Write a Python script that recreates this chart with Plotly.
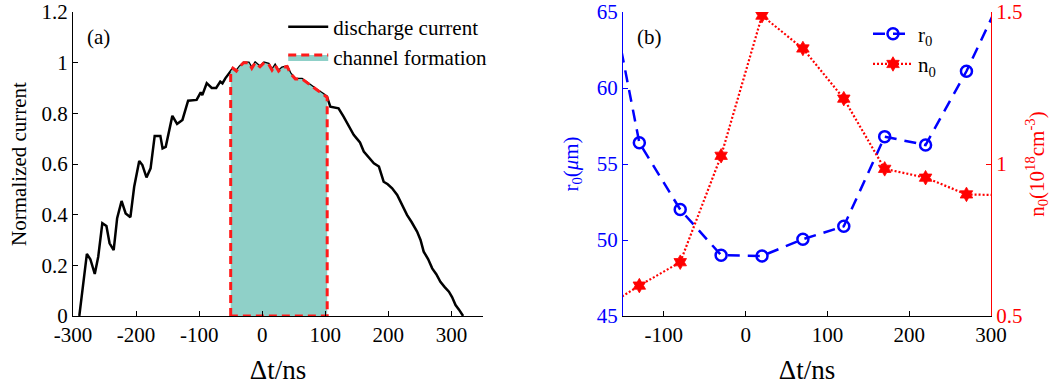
import numpy as np
import plotly.graph_objects as go

# ---------------- data ----------------
# (a) normalized discharge current vs delay (ns)
t_current = [-290, -284, -278, -272.5, -265.5, -260, -253.5, -247, -242, -235.5, -230, -223,
             -216.5, -209, -203, -195, -190, -183.5, -177, -170.5, -161.5, -158, -153, -142.5,
             -135, -126.5, -117.5, -104, -97.5, -95, -88, -80, -73, -66.5, -63, -58.5, -52,
             -46.5, -41, -36, -29.5, -21.5, -16.5, -11, -3.5, 3, 10, 15.5, 20.5, 26, 31.5, 39.5,
             44.5, 52.5, 63, 70, 79, 87, 95, 102.5, 108, 121, 129, 137, 145, 150, 155, 161,
             169, 177, 185, 192.5, 199, 206, 214, 222, 229.5, 237, 245.5, 251, 256, 263, 269.5,
             276, 282.5, 289, 296, 301, 306.5, 312, 318.5]
i_current = [0.0, 0.116, 0.245, 0.224, 0.166, 0.234, 0.366, 0.355, 0.287, 0.26, 0.386, 0.454,
             0.405, 0.39, 0.51, 0.612, 0.596, 0.547, 0.583, 0.711, 0.711, 0.662, 0.668, 0.79,
             0.758, 0.774, 0.85, 0.853, 0.883, 0.872, 0.919, 0.9, 0.9, 0.925, 0.918, 0.938, 0.958,
             0.978, 0.967, 0.984, 1.0, 1.0, 0.978, 1.0, 0.984, 1.0, 0.995, 0.971, 0.99, 0.967, 0.98,
             0.985, 0.958, 0.936, 0.936, 0.923, 0.905, 0.892, 0.879, 0.866, 0.826, 0.82, 0.787,
             0.75, 0.715, 0.70, 0.685, 0.649, 0.625, 0.603, 0.59, 0.53, 0.52, 0.504, 0.478, 0.44,
             0.399, 0.37, 0.333, 0.3, 0.254, 0.225, 0.188, 0.165, 0.135, 0.115, 0.096, 0.075,
             0.043, 0.025, 0.0]
CHANNEL_START = -50
CHANNEL_END = 103

# (b) channel radius and density vs delay (ns)
t_points = [-180, -130, -80, -30, 20, 70, 120, 170, 220, 270, 320]
r0_um = [70.2, 56.4, 52.0, 49.0, 48.95, 50.05, 50.9, 56.8, 56.25, 61.1, 66.8]
n0_1e18 = [0.515, 0.60, 0.677, 1.027, 1.488, 1.38, 1.215, 0.984, 0.955, 0.90, 0.897]

# tick labels
xa_ticks = [-300, -200, -100, 0, 100, 200, 300]
xa_labels = ["-300", "-200", "-100", "0", "100", "200", "300"]
xb_ticks = [-100, 0, 100, 200, 300]
xb_labels = ["-100", "0", "100", "200", "300"]

# ---------------- figure ----------------
FONT = "Liberation Serif"
BLUE = "#0000FF"
RED = "#FF0000"
fig = go.Figure()

fig.add_trace(go.Scatter(
    x=t_current, y=i_current, mode="lines", name="discharge current",
    line=dict(color="black", width=2.5), xaxis="x", yaxis="y", legend="legend"))

tc = np.array(t_current, dtype=float)
ic = np.array(i_current, dtype=float)
mask = (tc > CHANNEL_START) & (tc < CHANNEL_END)
top_x = [CHANNEL_START] + list(tc[mask]) + [CHANNEL_END]
top_y = [float(np.interp(CHANNEL_START, tc, ic))] + list(ic[mask]) + [float(np.interp(CHANNEL_END, tc, ic))]
poly_x = [CHANNEL_START] + top_x + [CHANNEL_END, CHANNEL_START]
poly_y = [0] + top_y + [0, 0]
fig.add_trace(go.Scatter(
    x=poly_x, y=poly_y, mode="lines", fill="toself", fillcolor="#8FD0C8",
    name="channel formation", line=dict(color="#FF1A1A", width=3, dash="8px,5px"),
    xaxis="x", yaxis="y", legend="legend"))

fig.add_trace(go.Scatter(
    x=t_points, y=r0_um, mode="lines+markers", name="r<sub>0</sub>",
    line=dict(color=BLUE, width=2.5, dash="12px,8px"),
    marker=dict(symbol="circle-open", size=11, color=BLUE, line=dict(width=2.5, color=BLUE)),
    xaxis="x2", yaxis="y2", legend="legend2", legendgroup="r", cliponaxis=True))
fig.add_trace(go.Scatter(
    x=t_points, y=n0_1e18, mode="lines+markers", name="n<sub>0</sub>",
    line=dict(color=RED, width=2.2, dash="2px,2px"),
    marker=dict(symbol="hexagram", size=11, color=RED, line=dict(width=0.8, color=RED)),
    xaxis="x2", yaxis="y3", legend="legend2", legendgroup="n", cliponaxis=True))


def axis(color="black", **kw):
    d = dict(showline=True, linewidth=1.2, ticks="inside", ticklen=5, tickwidth=1.2,
             showgrid=False, zeroline=False, automargin=False,
             linecolor=color, tickcolor=color,
             tickfont=dict(family=FONT, size=21, color=color))
    d.update(kw)
    return d


fig.update_layout(
    width=1051, height=385,
    margin=dict(l=73, r=60, t=12, b=69, autoexpand=False),
    paper_bgcolor="white", plot_bgcolor="white",
    font=dict(family=FONT, size=21, color="black"),
    xaxis=axis(domain=[0, 0.4466], range=[-300, 350], tickvals=xa_ticks, ticktext=xa_labels,
               anchor="y",
               title=dict(text="Δt/ns", font=dict(family=FONT, size=27), standoff=13)),
    yaxis=axis(domain=[0, 1], range=[0, 1.2], dtick=0.2, tick0=0, anchor="x",
               title=dict(text="Normalized current", font=dict(family=FONT, size=21), standoff=9)),
    xaxis2=axis(domain=[0.5991, 1], range=[-150, 300], tickvals=xb_ticks, ticktext=xb_labels,
                anchor="y2",
                title=dict(text="Δt/ns", font=dict(family=FONT, size=27), standoff=13)),
    yaxis2=axis(color=BLUE, domain=[0, 1], range=[45, 65], dtick=5, tick0=45, anchor="x2",
                title=dict(text="r<sub>0</sub>(<i>μ</i>m)", font=dict(family=FONT, size=21, color=BLUE),
                           standoff=12)),
    yaxis3=axis(color=RED, overlaying="y2", side="right", anchor="x2", range=[0.5, 1.5],
                dtick=0.5, tick0=0.5,
                title=dict(text="n<sub>0</sub>(10<sup>18</sup>cm<sup>-3</sup>)",
                           font=dict(family=FONT, size=21, color=RED), standoff=15)),
    legend=dict(x=0.229, y=1.018, xanchor="left", yanchor="top", bgcolor="rgba(0,0,0,0)",
                font=dict(family=FONT, size=21), itemwidth=40, tracegroupgap=0),
    legend2=dict(x=0.866, y=0.995, xanchor="left", yanchor="top", bgcolor="rgba(0,0,0,0)",
                 font=dict(family=FONT, size=21), itemwidth=40, tracegroupgap=0),
    annotations=[
        dict(text="(a)", x=-260, y=1.10, xref="x", yref="y", showarrow=False,
             font=dict(family=FONT, size=21, color="black")),
        dict(text="(b)", x=-117, y=63.35, xref="x2", yref="y2", showarrow=False,
             font=dict(family=FONT, size=21, color="black")),
    ],
)

# remove the default 8px page margin so the figure fills the window exactly
fig.write_html("out.html", config={"displayModeBar": False},
               post_script="document.body.style.margin='0px';document.body.style.overflow='hidden';")
